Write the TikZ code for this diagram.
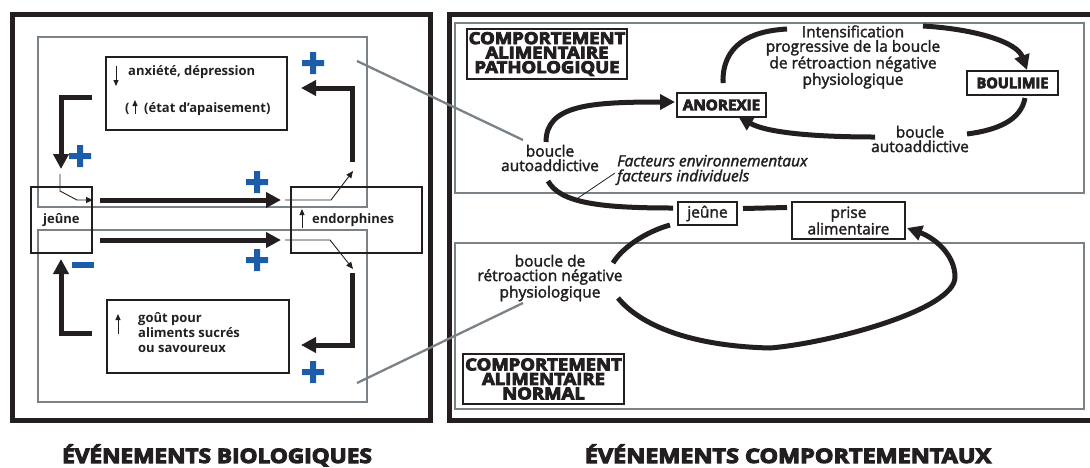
\documentclass[tikz,border=0pt]{standalone}
\usepackage{fontspec}
\setmainfont{Open Sans}
\newfontfamily\heavyfont{Open Sans}[FakeBold=5]
\newfontfamily\medfont{Open Sans}[FakeBold=2]
\newcommand\heavy{\heavyfont\bfseries}
\usetikzlibrary{arrows.meta}
\definecolor{ink}{HTML}{231F20}
\definecolor{signblue}{HTML}{1C5CA8}
\definecolor{boxgray}{HTML}{7A8287}
\begin{document}
\begin{tikzpicture}[x=1pt,y=-1pt,
  every node/.style={inner sep=0pt, text=ink},
  outer/.style={draw=ink, line width=5pt},
  gbox/.style={draw=boxgray, line width=2.3pt},
  tbox/.style={draw=ink, line width=1.2pt},
  fat/.style={draw=ink, line width=5pt},
  fatarrow/.style={fat, -{Triangle[length=15pt,width=15pt]}},
  thinarrow/.style={draw=ink, line width=0.9pt, -{Triangle[length=7pt,width=6pt]}},
  tinyarrow/.style={draw=ink, line width=0.9pt, -{Triangle[length=6pt,width=5pt]}},
  leader/.style={draw=boxgray, line width=2.3pt},
  lab/.style={font=\fontsize{13}{15}\selectfont\bfseries},
  rlab/.style={font=\fontsize{15.5}{14.5}\selectfont\medfont, align=center},
  heavylab/.style={font=\fontsize{16.5}{14.5}\selectfont\heavy, align=center},
  boxlab/.style={font=\fontsize{14.5}{14.5}\selectfont\heavy},
  title/.style={font=\fontsize{20}{20}\selectfont\heavy},
  plussign/.pic={\fill[signblue] (-11,-3) rectangle (11,3) (-3,-11) rectangle (3,11);},
  minussign/.pic={\fill[signblue] (-11,-3) rectangle (11,3);}
]
\useasboundingbox (0,0) rectangle (1090,467);

% ---------------- left panel ----------------
\draw[outer] (12,14) rectangle (430,420);
\draw[gbox] (38,37) rectangle (367,207);
\draw[gbox] (38,230) rectangle (367,402);

\node[tbox, minimum width=181pt, minimum height=73pt] (anxbox) at (196.5,93.5) {};
\node[tbox, minimum width=182pt, minimum height=73pt] (goutbox) at (198,336.5) {};
\node[tbox, minimum width=61pt, minimum height=66pt] (jeuneL) at (61.5,220) {};
\node[tbox, minimum width=131pt, minimum height=66pt] (endo) at (356.5,220) {};

\node[lab, anchor=base west] (anxt) at (128,75) {anxiété, dépression};
\node[lab, anchor=base west] (par) at (125,112) {(};
\node[lab, anchor=base west] (apt) at (144,112) {(état d'apaisement)};
\coordinate (a1s) at (116,66); \coordinate (a1e) at (116,86);
\draw[tinyarrow] (a1s) -- (a1e);
\coordinate (a2s) at (135,114); \coordinate (a2e) at (135,100);
\draw[tinyarrow] (a2s) -- (a2e);

\node[lab, anchor=west, align=left] (goutt) at (138,333) {goût pour\\aliments sucrés\\ou savoureux};
\coordinate (a3s) at (118,334); \coordinate (a3e) at (118,314);
\draw[tinyarrow] (a3s) -- (a3e);

\node[lab, anchor=base west] (endot) at (312,223) {endorphines};
\coordinate (a4s) at (302,228); \coordinate (a4e) at (302,209);
\draw[tinyarrow] (a4s) -- (a4e);
\node[lab, anchor=base west] (jeunet) at (43,223) {jeûne};

% thick loop arrows
\coordinate (p1) at (92,97); \coordinate (p2) at (61,97); \coordinate (p3) at (61,169);
\draw[fatarrow] (p1) -- (p2) -- (p3);
\coordinate (q1) at (60,174); \coordinate (q2) at (60,191); \coordinate (q3) at (77,200); \coordinate (q4) at (93,200);
\draw[thinarrow] (q1) -- (q2) -- (q3) -- (q4);
\coordinate (h1s) at (100,200); \coordinate (h1e) at (281,200);
\draw[fatarrow] (h1s) -- (h1e);
\coordinate (r1) at (285,200); \coordinate (r2) at (331,200); \coordinate (r3) at (353,171);
\draw[thinarrow] (r1) -- (r2) -- (r3);
\coordinate (s1) at (352,162); \coordinate (s2) at (352,88); \coordinate (s3) at (301,88);
\draw[fatarrow] (s1) -- (s2) -- (s3);

\coordinate (h2s) at (100,240); \coordinate (h2e) at (281,240);
\draw[fatarrow] (h2s) -- (h2e);
\coordinate (u1) at (285,240); \coordinate (u2) at (330,240); \coordinate (u3) at (353,269);
\draw[thinarrow] (u1) -- (u2) -- (u3);
\coordinate (v1) at (352,273); \coordinate (v2) at (352,345); \coordinate (v3) at (301,345);
\draw[fatarrow] (v1) -- (v2) -- (v3);
\coordinate (w1) at (92,333); \coordinate (w2) at (61,333); \coordinate (w3) at (61,259);
\draw[fatarrow] (w1) -- (w2) -- (w3);

\pic at (313,63) {plussign};
\pic at (80,156) {plussign};
\pic at (257,182) {plussign};
\pic at (257,260) {plussign};
\pic at (313,372) {plussign};
\pic at (83,265) {minussign};

% ---------------- right panel ----------------
\draw[outer] (449,14) rectangle (1100,420);
\draw[gbox] (455,23) rectangle (1084,193);
\draw[gbox] (455,243) rectangle (1084,409);

\node[tbox, heavylab, minimum width=160pt, minimum height=50pt] (patho) at (547,54) {\scalebox{1.12}[1]{COMPORTEMENT}\\\scalebox{1.12}[1]{ALIMENTAIRE}\\\scalebox{1.12}[1]{PATHOLOGIQUE}};
\node[tbox, heavylab, minimum width=161pt, minimum height=50pt] (normal) at (543.5,379) {\scalebox{1.12}[1]{COMPORTEMENT}\\\scalebox{1.12}[1]{ALIMENTAIRE}\\\scalebox{1.12}[1]{NORMAL}};
\node[tbox, boxlab, minimum width=89pt, minimum height=24pt] (anorexie) at (721.5,105) {\scalebox{1.05}[1]{ANOREXIE}};
\node[tbox, boxlab, minimum width=91pt, minimum height=24pt] (boulimie) at (1012.5,83) {BOULIMIE};
\node[tbox, rlab, minimum width=59pt, minimum height=23pt] (jeuneR) at (707.5,213.5) {jeûne};
\node[tbox, rlab, minimum width=113pt, minimum height=37pt] (prise) at (848.5,220.5) {prise\\alimentaire};

\node[rlab] (bal) at (550,158) {boucle\\autoaddictive};
\node[rlab] (bar) at (920,139) {boucle\\autoaddictive};
\node[rlab] (intens) at (853,57) {Intensification\\progressive de la boucle\\de rétroaction négative\\physiologique};
\node[font=\fontsize{15.5}{15}\selectfont\medfont\itshape, align=left, anchor=west] (fact) at (617,170) {Facteurs environnementaux\\facteurs individuels};
\node[rlab] (brn) at (550,278) {boucle de\\rétroaction négative\\physiologique};

% curves
\coordinate (c1) at (546,142); \coordinate (c1e) at (675,102);
\draw[fatarrow] (c1) .. controls (546,105) and (590,102) .. (c1e);
\coordinate (c2) at (548,181); \coordinate (c2e) at (673,208);
\draw[fat] (c2) .. controls (560,203) and (600,208) .. (c2e);
\coordinate (c3) at (743,208.5); \coordinate (c3e) at (787,207.5);
\draw[fat] (c3) -- (c3e);
\coordinate (c4) at (670,225); \coordinate (c4e) at (613,263);
\draw[fat] (c4) .. controls (645,232) and (622,248) .. (c4e);
\coordinate (c5) at (618,298); \coordinate (c5b) at (770,348); \coordinate (c5c) at (955,277); \coordinate (c5e) at (907,228);
\draw[fatarrow] (c5) .. controls (640,325) and (690,346) .. (c5b) .. controls (830,343) and (955,310) .. (c5c) .. controls (955,255) and (935,238) .. (c5e);
\coordinate (c6) at (723,83); \coordinate (c6e) at (787,29);
\draw[fat] (c6) .. controls (722,45) and (750,31) .. (c6e);
\coordinate (c7) at (923,26); \coordinate (c7e) at (1027,70);
\draw[fatarrow] (c7) .. controls (975,29) and (1017,42) .. (c7e);
\coordinate (c8) at (1025,98); \coordinate (c8e) at (967,134);
\draw[fat] (c8) .. controls (1021,120) and (998,130) .. (c8e);
\coordinate (c9) at (875,137); \coordinate (c9e) at (738,116);
\draw[fatarrow] (c9) .. controls (810,137) and (765,132) .. (c9e);

\coordinate (f1) at (615,173); \coordinate (f2) at (578,198);
\draw[draw=ink, line width=0.8pt] (f1) -- (f2);

% leaders
\coordinate (g1) at (357,61); \coordinate (g1e) at (523,140);
\draw[leader] (g1) -- (g1e);
\coordinate (g2) at (357,383); \coordinate (g2e) at (523,303);
\draw[leader] (g2) -- (g2e);

% titles
\node[title, anchor=base] (t1) at (217,463) {\scalebox{1.13}[1]{ÉVÉNEMENTS BIOLOGIQUES}};
\node[title, anchor=base] (t2) at (788,463) {\scalebox{1.17}[1]{ÉVÉNEMENTS COMPORTEMENTAUX}};
\end{tikzpicture}
\end{document}
